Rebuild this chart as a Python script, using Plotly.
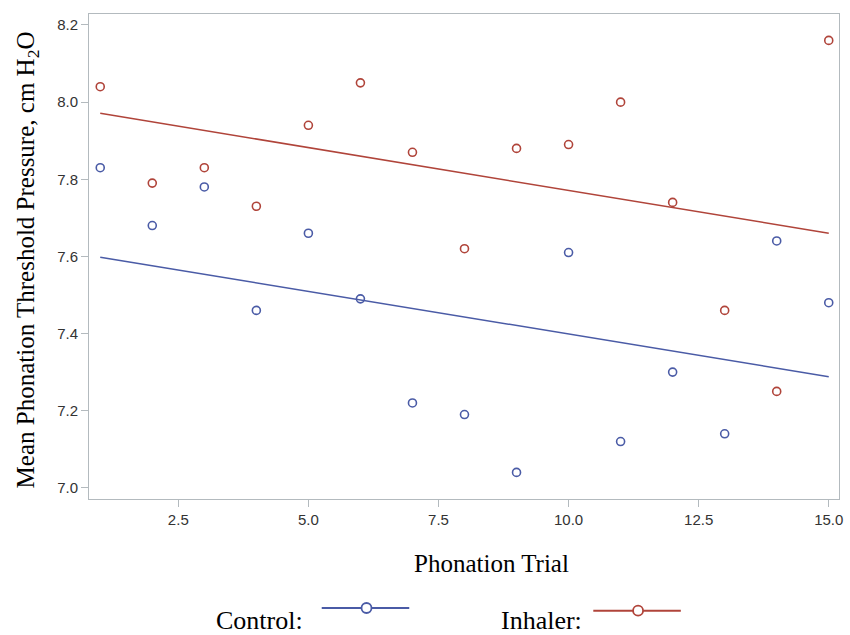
import plotly.graph_objects as go

# ---- data ----
trial = list(range(1, 16))
control = [7.83, 7.68, 7.78, 7.46, 7.66, 7.49, 7.22, 7.19, 7.04, 7.61, 7.12, 7.30, 7.14, 7.64, 7.48]
inhaler = [8.04, 7.79, 7.83, 7.73, 7.94, 8.05, 7.87, 7.62, 7.88, 7.89, 8.00, 7.74, 7.46, 7.25, 8.16]
fit_x = [1, 15]
fit_control = [7.598, 7.288]
fit_inhaler = [7.971, 7.660]
x_ticks = [2.5, 5.0, 7.5, 10.0, 12.5, 15.0]
y_ticks = [7.0, 7.2, 7.4, 7.6, 7.8, 8.0, 8.2]

BLUE = "#4a5ba6"
RED = "#b0443a"
FRAME = "#b3babe"
SERIF = "Liberation Serif, Times New Roman, serif"
SANS = "Liberation Sans, Arial, sans-serif"

fig = go.Figure()
fig.add_trace(go.Scatter(x=fit_x, y=fit_control, mode="lines",
                         line=dict(color=BLUE, width=1.5), showlegend=False, hoverinfo="skip"))
fig.add_trace(go.Scatter(x=fit_x, y=fit_inhaler, mode="lines",
                         line=dict(color=RED, width=1.5), showlegend=False, hoverinfo="skip"))
fig.add_trace(go.Scatter(x=trial, y=control, mode="markers", name="Control",
                         marker=dict(symbol="circle-open", size=8, color=BLUE, line=dict(width=1.6)),
                         showlegend=False))
fig.add_trace(go.Scatter(x=trial, y=inhaler, mode="markers", name="Inhaler",
                         marker=dict(symbol="circle-open", size=8, color=RED, line=dict(width=1.6)),
                         showlegend=False))

axis_common = dict(showgrid=False, zeroline=False, showline=True, linecolor=FRAME, linewidth=1,
                   mirror=True, ticks="outside", ticklen=7, tickcolor=FRAME, tickwidth=1,
                   tickfont=dict(family=SANS, size=15, color="#333333"), tickformat=".1f")

fig.update_xaxes(range=[0.784, 15.197], tickvals=x_ticks, **axis_common)
fig.update_yaxes(range=[6.971, 8.2285], tickvals=y_ticks, **axis_common)

annotations = [
    dict(text="Phonation Trial", xref="paper", yref="paper", x=0.537, y=-0.134,
         xanchor="center", yanchor="middle", showarrow=False,
         font=dict(family=SERIF, size=25, color="#000000")),
    dict(text="Mean Phonation Threshold Pressure, cm H<sub>2</sub>O", xref="paper", yref="paper",
         x=-0.082, y=0.493, xanchor="center", yanchor="middle", textangle=-90, showarrow=False,
         font=dict(family=SERIF, size=25, color="#000000")),
    dict(text="Control:", xref="paper", yref="paper", x=0.2268, y=-0.25,
         xanchor="center", yanchor="middle", showarrow=False,
         font=dict(family=SERIF, size=26, color="#000000")),
    dict(text="Inhaler:", xref="paper", yref="paper", x=0.6034, y=-0.25,
         xanchor="center", yanchor="middle", showarrow=False,
         font=dict(family=SERIF, size=26, color="#000000")),
]

shapes = [
    dict(type="line", xref="paper", yref="paper", x0=0.3103, x1=0.427, y0=-0.2247, y1=-0.2247,
         line=dict(color=BLUE, width=2)),
    dict(type="circle", xref="paper", yref="paper", xsizemode="pixel", ysizemode="pixel",
         xanchor=0.370, yanchor=-0.2247, x0=-5, x1=5, y0=-5, y1=5,
         line=dict(color=BLUE, width=1.8), fillcolor="white"),
    dict(type="line", xref="paper", yref="paper", x0=0.6724, x1=0.7891, y0=-0.2303, y1=-0.2303,
         line=dict(color=RED, width=2)),
    dict(type="circle", xref="paper", yref="paper", xsizemode="pixel", ysizemode="pixel",
         xanchor=0.7321, yanchor=-0.2303, x0=-5, x1=5, y0=-5, y1=5,
         line=dict(color=RED, width=1.8), fillcolor="white"),
]

fig.update_layout(width=850, height=635, margin=dict(l=89, r=7, t=14, b=136),
                  paper_bgcolor="white", plot_bgcolor="white",
                  annotations=annotations, shapes=shapes, showlegend=False)

fig.write_html("out.html", config={"displayModeBar": False},
               post_script="document.body.style.margin='0px';document.body.style.overflow='hidden';")
